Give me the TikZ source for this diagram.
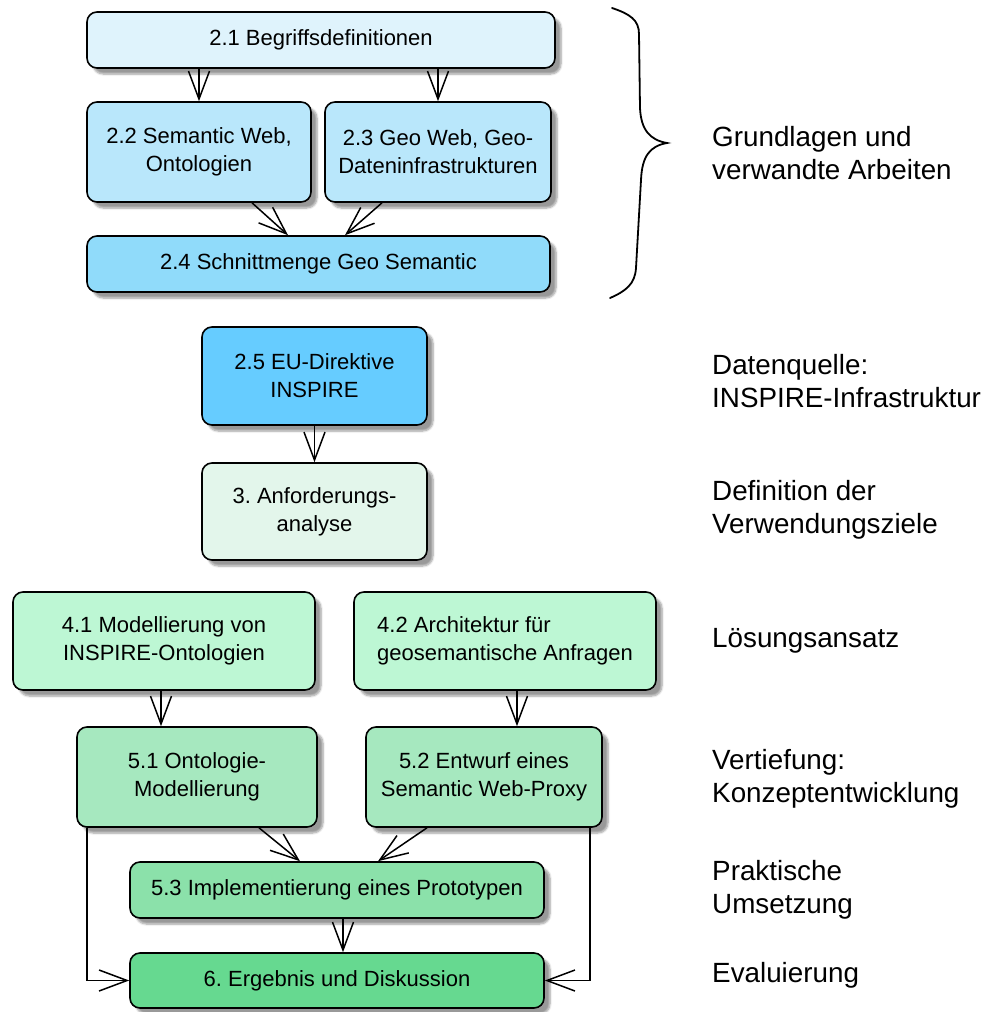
\documentclass[tikz,border=0pt]{standalone}
\usepackage{fontspec}
\setmainfont{Liberation Sans}
\usetikzlibrary{arrows.meta,shadows.blur}
\frenchspacing

\definecolor{cA}{HTML}{DFF3FC}
\definecolor{cB}{HTML}{B9E7FB}
\definecolor{cC}{HTML}{90DBFA}
\definecolor{cD}{HTML}{66CCFF}
\definecolor{cE}{HTML}{E3F6EB}
\definecolor{cF}{HTML}{BDF7D4}
\definecolor{cG}{HTML}{A6E8BF}
\definecolor{cH}{HTML}{8BE1AA}
\definecolor{cI}{HTML}{66D990}

\tikzset{
  stepbox/.style={draw=black, line width=1.6pt, rounded corners=10pt,
    align=center, inner sep=0pt,
    font=\fontsize{22}{28}\selectfont,
    blur shadow={shadow xshift=6pt, shadow yshift=-6pt,
      shadow blur radius=2pt, shadow blur steps=6, shadow opacity=40}},
  phase/.style={anchor=west, align=left, inner sep=0pt,
    font=\fontsize{27.8}{33}\selectfont},
  arr/.style={line width=1.5pt,
    -{Straight Barb[length=28pt, width=21pt, line width=1.5pt]}}
}

\begin{document}
\begin{tikzpicture}[x=1pt, y=-1pt]
\useasboundingbox (0,0) rectangle (987,1012);

% chapter boxes
\node[stepbox, fill=cA, minimum width=468pt, minimum height=56pt] (b21) at (321,40) {2.1 Begriffsdefinitionen};
\node[stepbox, fill=cB, minimum width=224pt, minimum height=100pt] (b22) at (199,152) {2.2 Semantic Web,\\Ontologien};
\node[stepbox, fill=cB, minimum width=226pt, minimum height=100pt] (b23) at (438,152) {2.3 Geo Web, Geo-\\Dateninfrastrukturen};
\node[stepbox, fill=cC, minimum width=463pt, minimum height=56pt] (b24) at (318.5,264) {2.4 Schnittmenge Geo Semantic};
\node[stepbox, fill=cD, minimum width=225pt, minimum height=98pt] (b25) at (314.5,376) {2.5 EU-Direktive\\INSPIRE};
\node[stepbox, fill=cE, minimum width=225pt, minimum height=97pt] (b3) at (314.5,511.5) {3. Anforderungs-\\analyse};
\node[stepbox, fill=cF, minimum width=302pt, minimum height=98pt] (b41) at (164,641) {4.1 Modellierung von\\INSPIRE-Ontologien};
\node[stepbox, fill=cF, minimum width=302pt, minimum height=98pt, align=left] (b42) at (505,641) {4.2 Architektur für\\geosemantische Anfragen};
\node[stepbox, fill=cG, minimum width=240pt, minimum height=100pt] (b51) at (197,777) {5.1 Ontologie-\\Modellierung};
\node[stepbox, fill=cG, minimum width=236pt, minimum height=100pt] (b52) at (484,777) {5.2 Entwurf eines\\Semantic Web-Proxy};
\node[stepbox, fill=cH, minimum width=414pt, minimum height=56pt] (b53) at (337,890) {5.3 Implementierung eines Prototypen};
\node[stepbox, fill=cI, minimum width=414pt, minimum height=55pt] (b6) at (337,980.5) {6. Ergebnis und Diskussion};

% connectors
\draw[arr] (b21.south -| b22.north) -- (b22.north);
\draw[arr] (b21.south -| b23.north) -- (b23.north);
\draw[arr] ([xshift=53pt]b22.south) -- ([xshift=-30.5pt]b24.north);
\draw[arr] ([xshift=-56pt]b23.south) -- ([xshift=26.5pt]b24.north);
\draw[arr] (b25.south) -- (b3.north);
\draw[arr] ([xshift=-3pt]b41.south) -- ([xshift=-3pt]b41.south |- b51.north);
\draw[arr] ([xshift=12pt]b42.south) -- ([xshift=12pt]b42.south |- b52.north);
\draw[arr] ([xshift=62pt]b51.south) -- ([xshift=-37pt]b53.north);
\draw[arr] ([xshift=-57pt]b52.south) -- ([xshift=41pt]b53.north);
\draw[arr] ([xshift=6pt]b53.south) -- ([xshift=6pt]b6.north);
\draw[arr] ([xshift=11pt]b51.south west) |- (b6.west);
\draw[arr] ([xshift=-13pt]b52.south east) |- (b6.east);

% brace grouping chapter 2.1--2.4
\draw[line width=1.8pt, line cap=round]
  (612,8) .. controls (630,14) and (639,20) .. (639,34)
  -- (640,108) .. controls (641,130) and (650,140) .. (667,143)
  .. controls (650,146) and (642,156) .. (641,180)
  -- (636,268) .. controls (635,284) and (626,291) .. (610,298);

% phase labels
\node[phase] (p1) at (712,153) {Grundlagen und\\verwandte Arbeiten};
\node[phase] (p2) at (712,381) {Datenquelle:\\INSPIRE-Infrastruktur};
\node[phase] (p3) at (712,510) {Definition der\\Verwendungsziele};
\node[phase] (p4) at (712,641) {Lösungsansatz};
\node[phase] (p5) at (712,779) {Vertiefung:\\Konzeptentwicklung};
\node[phase] (p6) at (712,890) {Praktische\\Umsetzung};
\node[phase] (p7) at (712,975) {Evaluierung};
\end{tikzpicture}
\end{document}
